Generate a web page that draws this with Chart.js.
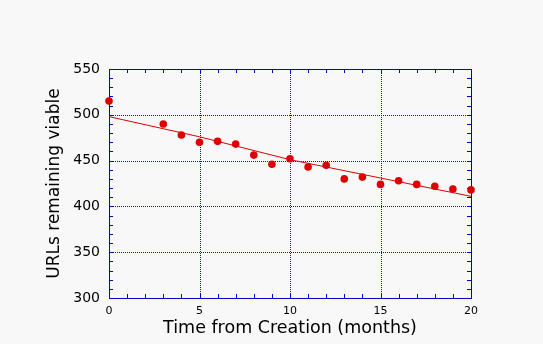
<!DOCTYPE html>
<html>
<head>
<meta charset="utf-8">
<script src="https://cdn.jsdelivr.net/npm/chart.js@4"></script>
<style>
  html, body { margin: 0; padding: 0; background: #f8f8f8; }
  #chart { display: block; }
</style>
</head>
<body>
<canvas id="chart" width="543" height="344"></canvas>
<script>
/* ── Data ── */
const months = [0, 3, 4, 5, 6, 7, 8, 9, 10, 11, 12, 13, 14, 15, 16, 17, 18, 19, 20];
const urlsViable = [515, 490, 478, 470, 471, 468, 456, 446, 452, 443, 445, 430, 432, 424, 428, 424, 422, 419, 418];
const fitMonths = [0, 5, 10, 15, 20];
const fitValues = [498, 476, 451, 431, 411];
const xMajor = [5, 10, 15];
const yMajor = [350, 400, 450, 500];

const BLUE = "#0000cc";
const RED = "#dd0000";

/* ── Frame, dotted grid and inward minor ticks ── */
const framePlugin = {
  id: "frame",
  beforeDatasetsDraw(chart) {
    const { ctx, chartArea: a, scales: { x, y } } = chart;
    const px = v => Math.round(v) + 0.5;
    const l = Math.round(a.left), r = Math.round(a.right), t = Math.round(a.top), b = Math.round(a.bottom);
    ctx.save();
    ctx.lineWidth = 1;

    // dotted grid (dash starts on whole pixels so dots stay crisp)
    ctx.strokeStyle = "#0000ff";
    ctx.setLineDash([1, 1]);
    ctx.beginPath();
    xMajor.forEach(v => {
      const p = px(x.getPixelForValue(v));
      ctx.moveTo(p, t); ctx.lineTo(p, b);
    });
    yMajor.forEach(v => {
      const p = px(y.getPixelForValue(v));
      ctx.moveTo(l, p); ctx.lineTo(r, p);
    });
    ctx.stroke();
    ctx.setLineDash([]);

    // minor ticks on all four sides
    ctx.strokeStyle = BLUE;
    ctx.beginPath();
    for (let v = 1; v < 20; v++) {
      const p = px(x.getPixelForValue(v));
      ctx.moveTo(p, b); ctx.lineTo(p, b - 4);
      ctx.moveTo(p, t); ctx.lineTo(p, t + 4);
    }
    for (let v = 310; v < 550; v += 10) {
      const p = px(y.getPixelForValue(v));
      ctx.moveTo(l, p); ctx.lineTo(l + 4, p);
      ctx.moveTo(r, p); ctx.lineTo(r - 4, p);
    }
    ctx.stroke();

    // frame
    ctx.strokeRect(l + 0.5, t + 0.5, r - l, b - t);
    ctx.restore();
  }
};

new Chart(document.getElementById("chart"), {
  type: "scatter",
  data: {
    datasets: [
      {
        label: "Fit",
        type: "line",
        data: fitMonths.map((m, i) => ({ x: m, y: fitValues[i] })),
        borderColor: RED, borderWidth: 1, pointRadius: 0, tension: 0, fill: false
      },
      {
        label: "URLs",
        data: months.map((m, i) => ({ x: m, y: urlsViable[i] })),
        backgroundColor: RED, borderColor: RED, borderWidth: 0,
        pointRadius: 3.8, clip: false
      }
    ]
  },
  options: {
    responsive: false,
    animation: false,
    devicePixelRatio: 1,
    layout: { padding: { left: 0, top: 69, right: 72, bottom: 0 } },
    plugins: { legend: { display: false }, tooltip: { enabled: false } },
    scales: {
      x: {
        type: "linear", min: 0, max: 20,
        grid: { display: false, drawTicks: false }, border: { display: false },
        ticks: { stepSize: 5, padding: 7, color: "#000", font: { family: "DejaVu Sans", size: 11 } },
        title: {
          display: true, text: "Time from Creation (months)", color: "#000",
          font: { family: "DejaVu Sans", size: 17.5 }, padding: { top: 0, bottom: 5 }
        },
        afterFit(scale) { scale.height = 46; }
      },
      y: {
        type: "linear", min: 300, max: 550,
        grid: { display: false, drawTicks: false }, border: { display: false },
        ticks: { stepSize: 50, padding: 9, color: "#000", font: { family: "DejaVu Sans", size: 14 } },
        title: {
          display: true, text: "URLs remaining viable", color: "#000",
          font: { family: "DejaVu Sans", size: 17 }, padding: { top: 44, bottom: 0 }
        },
        afterFit(scale) { scale.width = 109; }
      }
    }
  },
  plugins: [framePlugin]
});
</script>
</body>
</html>
